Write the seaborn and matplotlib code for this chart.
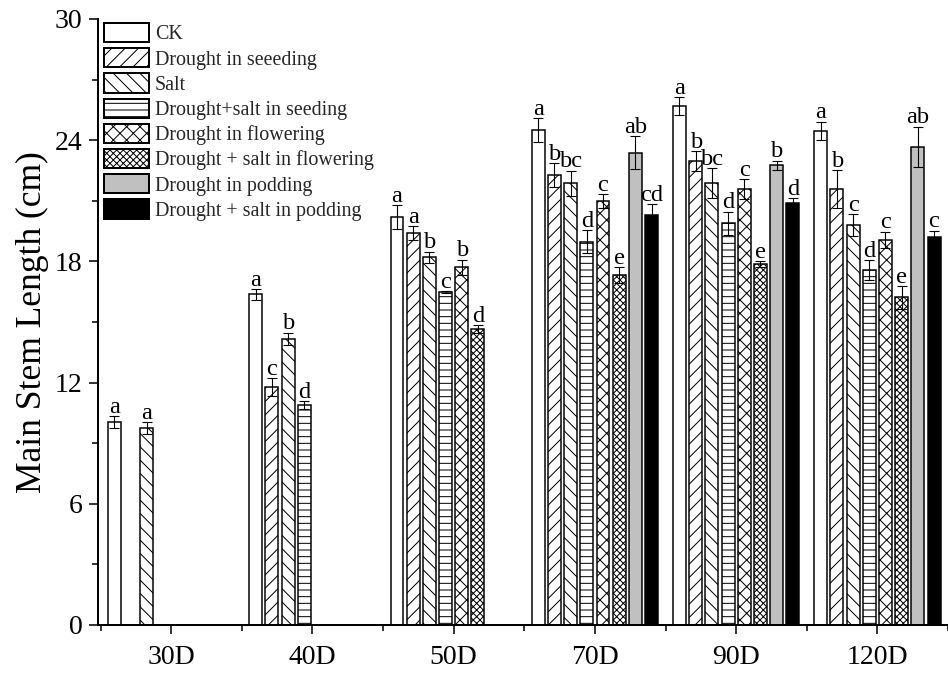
import numpy as np
import pandas as pd
import matplotlib
matplotlib.use("Agg")
import matplotlib.pyplot as plt
from matplotlib.patches import Patch
from matplotlib.ticker import MultipleLocator, FixedLocator
import seaborn as sns

# Growth stages (days after sowing) and treatments
stages = ["30D", "40D", "50D", "70D", "90D", "120D"]
treatments = ["CK", "Drought in seeeding", "Salt", "Drought+salt in seeding",
              "Drought in flowering", "Drought + salt in flowering",
              "Drought in podding", "Drought + salt in podding"]

# Mean main stem length (cm) per stage; None = treatment not yet applied
ck_mean = [10.05, 16.37, 20.2, 24.5, 25.7, 24.47]
ds_mean = [None, 11.77, 19.4, 22.28, 22.97, 21.57]
salt_mean = [9.75, 14.16, 18.2, 21.87, 21.87, 19.8]
dss_mean = [None, 10.89, 16.47, 18.98, 19.88, 17.57]
df_mean = [None, None, 17.7, 21.0, 21.57, 19.06]
dsf_mean = [None, None, 14.65, 17.33, 17.87, 16.22]
dp_mean = [None, None, None, 23.38, 22.76, 23.68]
dsp_mean = [None, None, None, 20.3, 20.88, 19.19]

# Standard deviations
ck_sd = [0.3, 0.26, 0.6, 0.58, 0.43, 0.45]
ds_sd = [None, 0.44, 0.33, 0.58, 0.5, 0.95]
salt_sd = [0.3, 0.31, 0.28, 0.62, 0.74, 0.55]
dss_sd = [None, 0.2, 0.05, 0.57, 0.58, 0.5]
df_sd = [None, None, 0.38, 0.34, 0.49, 0.41]
dsf_sd = [None, None, 0.2, 0.38, 0.15, 0.56]
dp_sd = [None, None, None, 0.83, 0.23, 0.99]
dsp_sd = [None, None, None, 0.54, 0.24, 0.33]

# Significance letters
ck_sig = ["a", "a", "a", "a", "a", "a"]
ds_sig = [None, "c", "a", "b", "b", "b"]
salt_sig = ["a", "b", "b", "bc", "bc", "c"]
dss_sig = [None, "d", "c", "d", "d", "d"]
df_sig = [None, None, "b", "c", "c", "c"]
dsf_sig = [None, None, "d", "e", "e", "e"]
dp_sig = [None, None, None, "ab", "b", "ab"]
dsp_sig = [None, None, None, "cd", "d", "c"]

means = [ck_mean, ds_mean, salt_mean, dss_mean, df_mean, dsf_mean, dp_mean, dsp_mean]
sds = [ck_sd, ds_sd, salt_sd, dss_sd, df_sd, dsf_sd, dp_sd, dsp_sd]
sigs = [ck_sig, ds_sig, salt_sig, dss_sig, df_sig, dsf_sig, dp_sig, dsp_sig]

fills = ["white", "white", "white", "white", "white", "white", "#c0c0c0", "black"]
hatches = ["", "//", "\\\\", "--", "xx", "xxxx", "", ""]

rows = []
for t, mlist in zip(treatments, means):
    for s, m in zip(stages, mlist):
        if m is not None:
            rows.append({"stage": s, "treatment": t, "length": m})
data = pd.DataFrame(rows)

sns.set_theme(style="ticks")
plt.rcParams["font.family"] = ["Liberation Serif", "DejaVu Serif"]
plt.rcParams["hatch.linewidth"] = 0.9
plt.rcParams["hatch.color"] = "black"

DPI = 80
fig = plt.figure(figsize=(948 / DPI, 675 / DPI), dpi=DPI)
ax = fig.add_axes([98 / 948, 50 / 675, 850 / 948, 606 / 675])

sns.barplot(data=data, x="stage", y="length", hue="treatment",
            order=stages, hue_order=treatments,
            palette=dict(zip(treatments, fills)), saturation=1,
            width=0.917, gap=0.2, errorbar=None,
            edgecolor="black", linewidth=1.35, legend=False, ax=ax)

for cont, t in zip(ax.containers, treatments):
    i = treatments.index(t)
    for bar in cont:
        bar.set_hatch(hatches[i])
        xc = bar.get_x() + bar.get_width() / 2
        h = bar.get_height()
        k = int(round(xc))
        sd = sds[i][k]
        ax.errorbar(xc, h, yerr=sd, fmt="none", ecolor="black",
                    elinewidth=1.0, capsize=4.5, capthick=1.0, zorder=4)
        ax.annotate(sigs[i][k], (xc, h + sd), xytext=(0, 3),
                    textcoords="offset points", ha="center", va="baseline",
                    fontsize=22, color="black")

ax.set_xlim(-0.518, 5.5)
ax.set_ylim(0, 30)
ax.set_yticks(range(0, 31, 6))
ax.yaxis.set_minor_locator(MultipleLocator(3))
ax.set_xticks(range(len(stages)))
ax.set_xticklabels(stages)
ax.xaxis.set_minor_locator(FixedLocator(np.arange(-0.5, 6, 1)))
ax.tick_params(axis="both", which="major", length=8, width=1.4,
               labelsize=25, color="black", labelcolor="black", pad=6, direction="out")
ax.tick_params(axis="x", which="major", pad=10)
ax.tick_params(axis="both", which="minor", length=5, width=1.4, color="black", direction="out")
ax.set_xlabel("")
ax.set_ylabel("Main Stem Length (cm)", fontsize=32, color="black", labelpad=5)
sns.despine(ax=ax)
for sp in ("left", "bottom"):
    ax.spines[sp].set_linewidth(1.8)
    ax.spines[sp].set_color("black")

handles = [Patch(facecolor=f, edgecolor="black", hatch=h, linewidth=1.8)
           for f, h in zip(fills, hatches)]
ax.legend(handles, treatments, loc="upper left",
          bbox_to_anchor=(104 / 948, 1 - 23 / 675), bbox_transform=fig.transFigure,
          frameon=False, fontsize=18, borderpad=0, borderaxespad=0,
          handlelength=2.25, handleheight=1.1, labelspacing=0.19,
          handletextpad=0.3)

fig.savefig("out.png", dpi=DPI)
